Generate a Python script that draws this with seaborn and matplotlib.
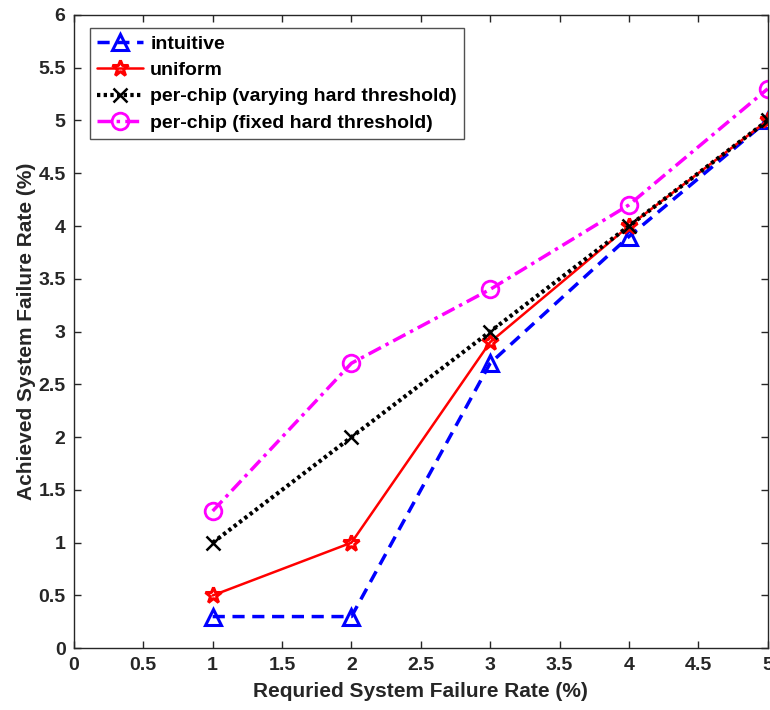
import matplotlib
matplotlib.use("Agg")
import matplotlib.pyplot as plt
import seaborn as sns
import pandas as pd

x_required = [1, 2, 3, 4, 5]
intuitive = [0.3, 0.3, 2.7, 3.9, 5.0]
uniform = [0.5, 1.0, 2.9, 4.0, 5.0]
perchip_varying = [1.0, 2.0, 3.0, 4.0, 5.0]
perchip_fixed = [1.3, 2.7, 3.4, 4.2, 5.3]
series_names = ["intuitive", "uniform", "per-chip (varying hard threshold)",
                "per-chip (fixed hard threshold)"]
x_ticks = [0, 0.5, 1, 1.5, 2, 2.5, 3, 3.5, 4, 4.5, 5]
y_ticks = [0, 0.5, 1, 1.5, 2, 2.5, 3, 3.5, 4, 4.5, 5, 5.5, 6]

sns.set_style("ticks")
plt.rcParams['font.family'] = ['Liberation Sans', 'DejaVu Sans']
plt.rcParams['font.weight'] = 'bold'

fig = plt.figure(figsize=(7.7, 7.1), dpi=100)
ax = fig.add_axes([0.096, 0.087, 0.901, 0.892])

styles = [
    dict(color="#0000ff", linestyle=(0, (3.5, 2.2)), marker="^", ms=12, mfc="none", mew=2.2, lw=2.5),
    dict(color="#ff0000", linestyle="-", marker="*", ms=12, mfc="none", mew=2.2, lw=1.8),
    dict(color="#000000", linestyle=(0, (0.8, 0.8)), marker="x", ms=10, mfc="none", mew=1.8, lw=3.0),
    dict(color="#ff00ff", linestyle=(0, (4, 1.5, 1, 1.5)), marker="o", ms=12, mfc="none", mew=2.0, lw=2.5),
]
data_series = [intuitive, uniform, perchip_varying, perchip_fixed]
for name, vals, st in zip(series_names, data_series, styles):
    df = pd.DataFrame({"x": x_required, "y": vals})
    sns.lineplot(data=df, x="x", y="y", ax=ax, label=name, color=st["color"],
                 linestyle=st["linestyle"], linewidth=st["lw"], marker=st["marker"],
                 markersize=st["ms"], markerfacecolor=st["mfc"], markeredgecolor=st["color"],
                 markeredgewidth=st["mew"])

ax.set_xlim(0, 5)
ax.set_ylim(0, 6)
ax.set_xticks(x_ticks)
ax.set_xticklabels([f"{t:g}" for t in x_ticks])
ax.set_yticks(y_ticks)
ax.set_yticklabels([f"{t:g}" for t in y_ticks])
ax.tick_params(direction="in", length=5, width=1, labelsize=14, top=True, right=True,
               colors="#262626", pad=6)
for lab in ax.get_xticklabels() + ax.get_yticklabels():
    lab.set_fontweight("bold")
for sp in ax.spines.values():
    sp.set_visible(True)
    sp.set_color("#262626")
    sp.set_linewidth(1.0)
ax.set_xlabel("Requried System Failure Rate (%)", fontsize=15, fontweight="bold",
              color="#262626", labelpad=6)
ax.set_ylabel("Achieved System Failure Rate (%)", fontsize=15, fontweight="bold",
              color="#262626", labelpad=2)

leg = ax.legend(loc="upper left", fontsize=14, frameon=True, fancybox=False,
                edgecolor="#262626", borderpad=0.35, handlelength=2.4, handletextpad=0.35,
                labelspacing=0.45, borderaxespad=0, bbox_to_anchor=(0.023, 0.979))
leg.get_frame().set_linewidth(1.0)
for t in leg.get_texts():
    t.set_fontweight("bold")
    t.set_color("#000000")

fig.savefig("out.png", dpi=100)
